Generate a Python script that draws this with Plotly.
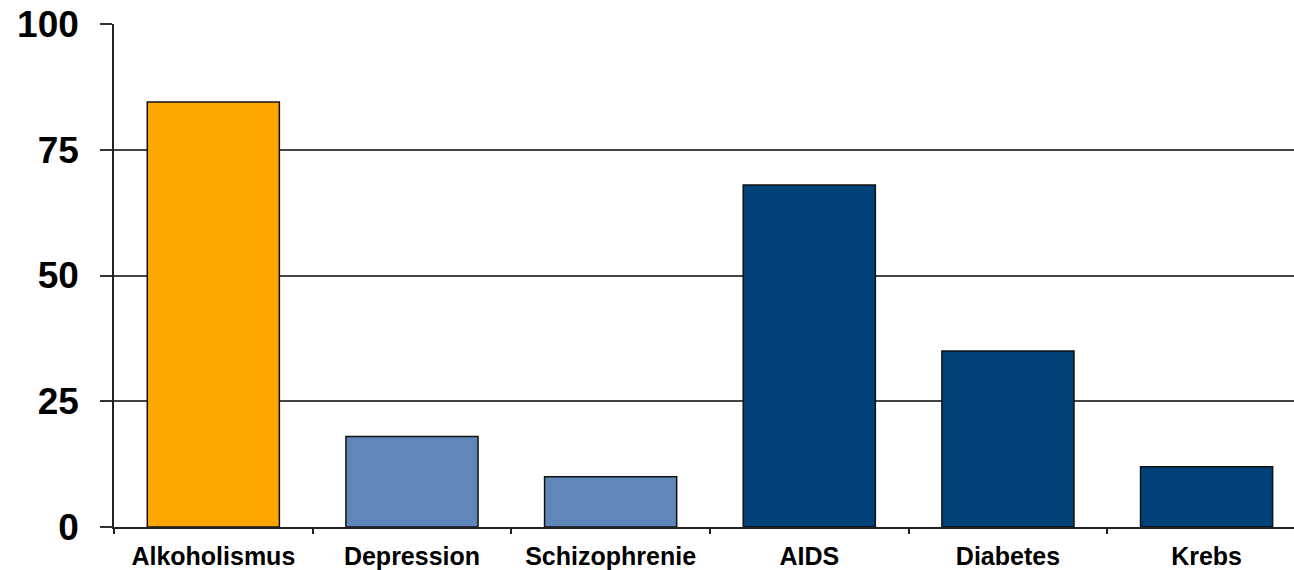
import plotly.graph_objects as go

# Kategorien und Werte
categories = ["Alkoholismus", "Depression", "Schizophrenie", "AIDS", "Diabetes", "Krebs"]
values = [84.5, 18, 10, 68, 35, 12]
bar_colors = ["#FFA500", "#5F87BA", "#5F87BA", "#00417A", "#00417A", "#00417A"]
y_ticks = [0, 25, 50, 75, 100]

fig = go.Figure(
    go.Bar(
        x=categories,
        y=values,
        marker=dict(color=bar_colors, line=dict(color="#111111", width=1.5)),
        width=0.665,
        hoverinfo="x+y",
    )
)

fig.update_layout(
    width=1294,
    height=570,
    margin=dict(l=114, r=0, t=24, b=43),
    paper_bgcolor="white",
    plot_bgcolor="white",
    showlegend=False,
    font=dict(family="Liberation Sans, Arial, sans-serif", color="#000000"),
)

# die letzte Kategorie reicht etwas über den rechten Rand hinaus
fig.update_xaxes(
    type="category",
    range=[-0.5, 5.44],
    tickvals=categories,
    ticktext=[f"<b>{c}</b>" for c in categories],
    showline=True,
    linecolor="#222222",
    linewidth=1.5,
    ticks="outside",
    tickson="boundaries",
    ticklen=5,
    tickcolor="#222222",
    tickwidth=1.5,
    showgrid=False,
    tickfont=dict(size=25, family="Liberation Sans, Arial, sans-serif"),
    ticklabelstandoff=6,
)

fig.update_yaxes(
    range=[0, 100],
    tickvals=y_ticks,
    ticktext=[f"<b>{v}</b>" for v in y_ticks],
    showline=True,
    linecolor="#222222",
    linewidth=1.5,
    ticks="outside",
    ticklen=12,
    tickcolor="#333333",
    tickwidth=1.5,
    showgrid=True,
    gridcolor="#444444",
    gridwidth=1.5,
    zeroline=False,
    tickfont=dict(size=37, family="Liberation Sans, Arial, sans-serif"),
    ticklabelstandoff=14,
)

fig.write_html("out.html")
